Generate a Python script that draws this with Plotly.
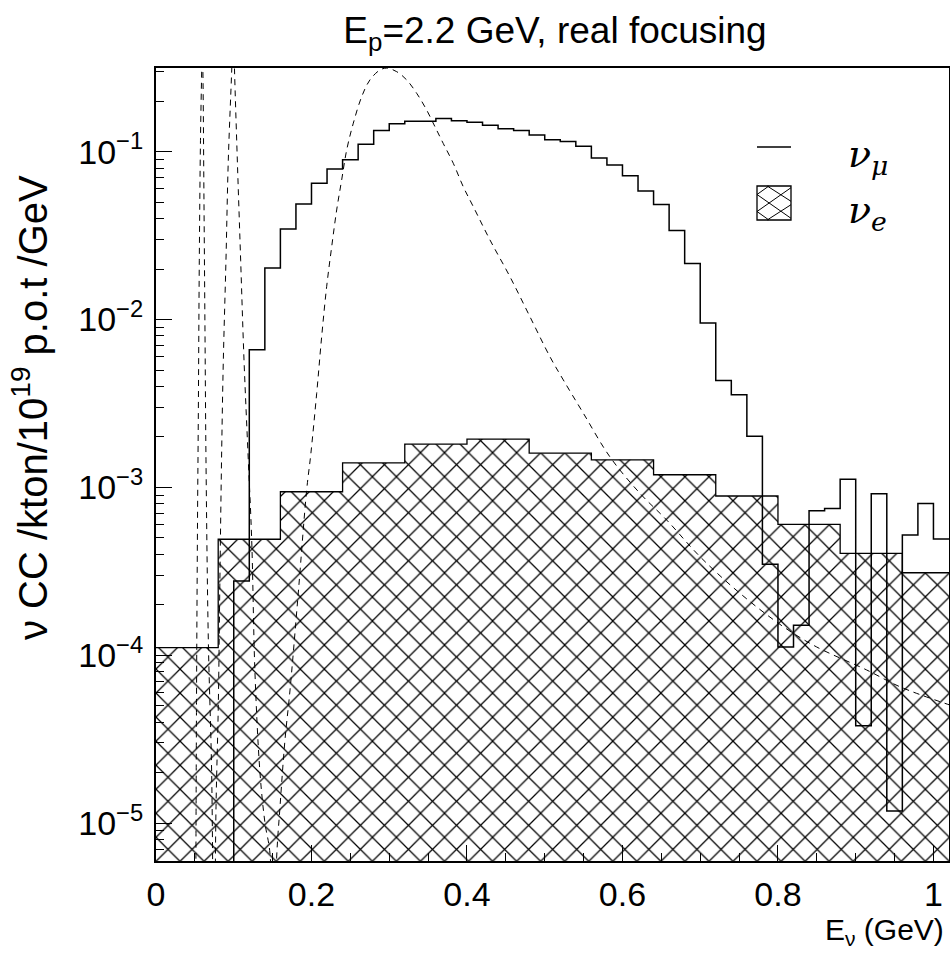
import plotly.graph_objects as go

# ---------------- data ----------------
# nu_mu histogram: 0.02 GeV bins from 0 to 1.02 GeV (51 bins)
numu_edges = [0.00, 0.02, 0.04, 0.06, 0.08, 0.10, 0.12, 0.14, 0.16, 0.18,
              0.20, 0.22, 0.24, 0.26, 0.28, 0.30, 0.32, 0.34, 0.36, 0.38,
              0.40, 0.42, 0.44, 0.46, 0.48, 0.50, 0.52, 0.54, 0.56, 0.58,
              0.60, 0.62, 0.64, 0.66, 0.68, 0.70, 0.72, 0.74, 0.76, 0.78,
              0.80, 0.82, 0.84, 0.86, 0.88, 0.90, 0.92, 0.94, 0.96, 0.98,
              1.00, 1.02]
numu_vals = [0.0, 0.0, 0.0, 0.0, 0.0, 2.77e-4, 6.62e-3, 0.0203, 0.0347, 0.0489,
             0.0648, 0.0789, 0.0896, 0.111, 0.134, 0.147, 0.152, 0.152, 0.158, 0.153,
             0.150, 0.144, 0.137, 0.134, 0.126, 0.118, 0.115, 0.108, 0.0917, 0.0833,
             0.0720, 0.0583, 0.0485, 0.0339, 0.0216, 0.00955, 4.33e-3, 3.56e-3, 2.02e-3, 3.48e-4,
             1.12e-4, 1.51e-4, 7.26e-4, 7.50e-4, 1.12e-3, 3.80e-5, 9.16e-4, 1.18e-5, 5.20e-4, 8.03e-4,
             4.93e-4]

# nu_e histogram: 0.08 GeV bins
nue_edges = [0.00, 0.08, 0.16, 0.24, 0.32, 0.40, 0.48, 0.56, 0.64, 0.72,
             0.80, 0.88, 0.96, 1.04]
nue_vals = [1.11e-4, 4.91e-4, 9.42e-4, 1.40e-3, 1.81e-3, 1.94e-3, 1.60e-3,
            1.46e-3, 1.19e-3, 8.89e-4, 6.03e-4, 4.05e-4, 3.10e-4]

# dashed curve (read point by point; dips go below the axis)
osc_E = [0.0508, 0.0521, 0.0534, 0.0544, 0.0557, 0.0572, 0.0588, 0.0595, 0.0603,
         0.0617, 0.0630, 0.0643, 0.0673, 0.0716, 0.0746, 0.0772, 0.0801, 0.0823,
         0.0845, 0.0866, 0.0900, 0.0930, 0.0974, 0.0995, 0.1010, 0.1046, 0.1089,
         0.1132, 0.1187, 0.1231, 0.1273, 0.1338, 0.1402, 0.1466, 0.1505, 0.1552,
         0.1595, 0.1659, 0.1724, 0.1830, 0.1938, 0.1990, 0.2067, 0.2131, 0.2195,
         0.2260, 0.2324, 0.2388, 0.2453, 0.2538, 0.2646, 0.2752, 0.2881, 0.2967,
         0.3096, 0.3224, 0.3353, 0.3482, 0.3588, 0.3695, 0.3824, 0.3952, 0.4081,
         0.4296, 0.4553, 0.4810, 0.5067, 0.5239, 0.5496, 0.5839, 0.6225, 0.6569,
         0.6997, 0.7511, 0.8068, 0.8498, 0.9141, 0.9569, 1.0212]
osc_vals = [1e-6, 5.41e-5, 6.39e-4, 2.52e-3, 0.0226, 0.117, 0.307, 0.45, 0.307,
            0.0516, 8.67e-3, 1.46e-3, 1.23e-4, 1.98e-5, 1e-6, 1.25e-5, 4.92e-5, 3.09e-4,
            1.67e-3, 5.74e-3, 0.0226, 0.0893, 0.307, 0.6, 0.307, 0.0893, 0.0226,
            5.74e-3, 1.46e-3, 4.86e-4, 7.85e-5, 1.98e-5, 1.0e-5, 6.6e-6, 1e-6, 6.27e-6,
            1.25e-5, 3.13e-5, 6.21e-5, 2.35e-4, 9.66e-4, 1.56e-3, 3.64e-3, 7.91e-3, 0.0157,
            0.0272, 0.0450, 0.0679, 0.1026, 0.148, 0.213, 0.268, 0.307, 0.315,
            0.300, 0.268, 0.223, 0.177, 0.141, 0.112, 0.0853, 0.0619, 0.0471,
            0.0298, 0.0180, 0.0104, 6.01e-3, 4.37e-3, 2.77e-3, 1.52e-3, 9.22e-4, 6.39e-4,
            3.87e-4, 2.34e-4, 1.48e-4, 1.12e-4, 8.17e-5, 6.49e-5, 5.05e-5]

y_tick_vals = [1e-5, 1e-4, 1e-3, 1e-2, 1e-1]
y_tick_text = ["10<sup>−5</sup>", "10<sup>−4</sup>", "10<sup>−3</sup>",
               "10<sup>−2</sup>", "10<sup>−1</sup>"]
x_tick_vals = [0, 0.2, 0.4, 0.6, 0.8, 1.0]
x_tick_text = ["0", "0.2", "0.4", "0.6", "0.8", "1"]

# ---------------- figure ----------------
LOG_MIN, LOG_MAX = -5.226, -0.501
floor_val = 10 ** (LOG_MIN - 2)   # empty bins drawn below the axis

FONT = "Liberation Sans"

numu_y = [v if v > 0 else floor_val for v in numu_vals]
numu_y = numu_y + [numu_y[-1]]
nue_y = nue_vals + [nue_vals[-1]]

fig = go.Figure()

fig.add_trace(go.Scatter(
    x=nue_edges, y=nue_y, mode="lines", line=dict(shape="hv", color="black", width=1.3),
    fill="tozeroy", fillcolor="white",
    fillpattern=dict(shape="x", size=17, solidity=0.14, fgcolor="black", fgopacity=1,
                     bgcolor="white"),
    showlegend=False, hoverinfo="skip"))

fig.add_trace(go.Scatter(
    x=numu_edges, y=numu_y, mode="lines", line=dict(shape="hv", color="black", width=1.5),
    showlegend=False, hoverinfo="skip"))

fig.add_trace(go.Scatter(
    x=osc_E, y=osc_vals, mode="lines", line=dict(color="black", width=1, dash="6px,5px"),
    line_shape="spline", showlegend=False, hoverinfo="skip"))

fig.update_xaxes(
    range=[0, 1.02], showline=True, linecolor="black", linewidth=2, mirror=True,
    ticks="inside", ticklen=16, tickwidth=1, tickcolor="black",
    tickvals=x_tick_vals, ticktext=x_tick_text,
    minor=dict(ticks="inside", ticklen=8, tickwidth=1, tickcolor="black", dtick=0.05),
    showgrid=False, zeroline=False, ticklabelstandoff=2,
    tickfont=dict(family=FONT, size=34, color="black"))

fig.update_yaxes(
    type="log", range=[LOG_MIN, LOG_MAX], showline=True, linecolor="black", linewidth=2,
    mirror=True, ticks="inside", ticklen=16, tickwidth=1, tickcolor="black",
    tickvals=y_tick_vals, ticktext=y_tick_text,
    minor=dict(ticks="inside", ticklen=8, tickwidth=1, tickcolor="black", dtick="D1"),
    showgrid=False, zeroline=False, ticklabelstandoff=4,
    tickfont=dict(family=FONT, size=34, color="black"))

W, H = 950, 953
L, R, T, B = 156, 1, 68, 92
pw, ph = W - L - R, H - T - B

def px(xp):
    return (xp - L) / pw

def py(yp):
    return (H - B - yp) / ph

annotations = [
    dict(text="E<sub>ν</sub> (GeV)", x=px(946), y=py(952), xref="paper", yref="paper",
         xanchor="right", yanchor="bottom", showarrow=False,
         font=dict(family=FONT, size=30, color="black")),
    dict(text="ν CC /kton/10<sup>19</sup> p.o.t /GeV", x=px(30), y=py(408),
         xref="paper", yref="paper", xanchor="center", yanchor="middle",
         textangle=-90, showarrow=False, font=dict(family=FONT, size=40, color="black")),
    dict(text="<i>ν<sub>μ</sub></i>", x=px(846), y=py(157), xref="paper", yref="paper",
         xanchor="left", yanchor="middle", showarrow=False,
         font=dict(family="DejaVu Serif", size=38, color="black")),
    dict(text="<i>ν<sub>e</sub></i>", x=px(846), y=py(212), xref="paper", yref="paper",
         xanchor="left", yanchor="middle", showarrow=False,
         font=dict(family="DejaVu Serif", size=38, color="black")),
]

bx0, bx1, by0, by1 = px(757), px(791), py(220), py(186)
bw, bh = bx1 - bx0, by1 - by0
shapes = [
    dict(type="line", xref="paper", yref="paper", x0=px(757), x1=px(791), y0=py(147), y1=py(147),
         line=dict(color="black", width=1.3)),
    dict(type="rect", xref="paper", yref="paper", x0=bx0, x1=bx1, y0=by0, y1=by1,
         line=dict(color="black", width=1.3), fillcolor="white"),
]
for (a0, b0, a1, b1) in [(0, 0.75, 1, 0.05), (0, 0.25, 1, 0.95), (0.3, 1.0, 1, 0.55),
                         (0.3, 0.0, 1, 0.45), (0, 0.75, 0.35, 1.0), (0, 0.25, 0.35, 0.0)]:
    shapes.append(dict(type="line", xref="paper", yref="paper",
                       x0=bx0 + a0 * bw, y0=by0 + b0 * bh, x1=bx0 + a1 * bw, y1=by0 + b1 * bh,
                       line=dict(color="black", width=1)))

fig.update_layout(
    width=W, height=H, margin=dict(l=L, r=R, t=T, b=B, autoexpand=False),
    paper_bgcolor="white", plot_bgcolor="white",
    title=dict(text="E<sub>p</sub>=2.2 GeV, real focusing", x=555 / W, xanchor="center",
               y=1 - 30 / H, yanchor="middle", font=dict(family=FONT, size=37, color="black")),
    annotations=annotations, shapes=shapes, showlegend=False)

fig.write_html("out.html")
